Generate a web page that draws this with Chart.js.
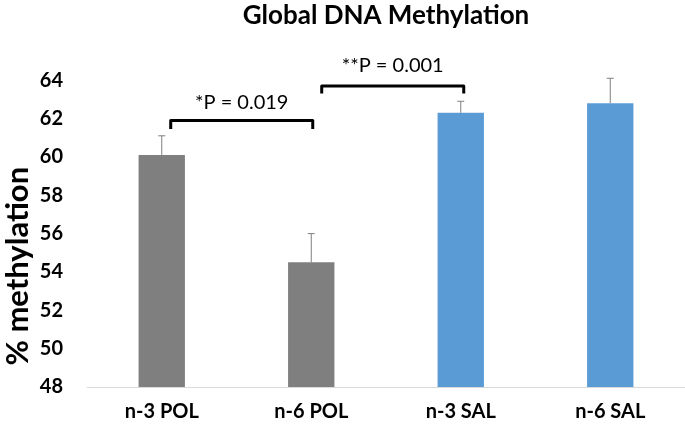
<!DOCTYPE html>
<html>
<head>
<meta charset="utf-8">
<script src="https://cdn.jsdelivr.net/npm/chart.js@4.4.1/dist/chart.umd.min.js"></script>
<style>
  html, body { margin: 0; padding: 0; background: #fff; }
  #wrap { width: 685px; height: 432px; position: relative; }
</style>
</head>
<body>
<div id="wrap"><canvas id="chart"></canvas></div>
<script>
  // values
  const groups = ['n-3 POL', 'n-6 POL', 'n-3 SAL', 'n-6 SAL'];
  const methylation = [60.1, 54.5, 62.3, 62.8];
  const errorUpper = [1.0, 1.5, 0.6, 1.3];
  const barColors = ['#7f7f7f', '#7f7f7f', '#5b9bd5', '#5b9bd5'];
  const yTicks = [48, 50, 52, 54, 56, 58, 60, 62, 64];
  const yTitle = '% methylation';

  // significance brackets: [from index, to index, bar level, tick end, label, label level]
  const brackets = [
    { from: 0.06, to: 1.01, level: 61.9, end: 61.45, text: '*P = 0.019', textAt: 62.85 },
    { from: 1.07, to: 2.02, level: 63.7, end: 63.3, text: '**P = 0.001', textAt: 64.75 }
  ];

  const font = 'Lato, "Open Sans", sans-serif';

  const extras = {
    id: 'extras',
    afterDatasetsDraw(chart) {
      const ctx = chart.ctx;
      const x = chart.scales.x;
      const y = chart.scales.y;
      ctx.save();
      // error bars (upper only)
      ctx.strokeStyle = '#7f7f7f';
      ctx.lineWidth = 1;
      methylation.forEach(function (v, i) {
        const px = x.getPixelForValue(i);
        const top = y.getPixelForValue(v + errorUpper[i]);
        const bot = y.getPixelForValue(v);
        ctx.beginPath();
        ctx.moveTo(px, bot);
        ctx.lineTo(px, top);
        ctx.moveTo(px - 3.5, top);
        ctx.lineTo(px + 3.5, top);
        ctx.stroke();
      });
      // brackets
      ctx.strokeStyle = '#000';
      ctx.lineWidth = 3;
      ctx.lineJoin = 'round';
      ctx.fillStyle = '#000';
      ctx.font = '20px ' + font;
      ctx.textAlign = 'center';
      ctx.textBaseline = 'middle';
      brackets.forEach(function (b) {
        const x1 = x.getPixelForValue(b.from);
        const x2 = x.getPixelForValue(b.to);
        const yl = y.getPixelForValue(b.level);
        const ye = y.getPixelForValue(b.end);
        ctx.beginPath();
        ctx.moveTo(x1, ye);
        ctx.lineTo(x1, yl);
        ctx.lineTo(x2, yl);
        ctx.lineTo(x2, ye);
        ctx.stroke();
        ctx.fillText(b.text, (x1 + x2) / 2, y.getPixelForValue(b.textAt));
      });
      // y axis title, sitting a little low as in the original
      ctx.font = 'bold 31px ' + font;
      ctx.translate(18, y.getPixelForValue(54.3));
      ctx.rotate(-Math.PI / 2);
      ctx.fillText(yTitle, 0, 0);
      ctx.restore();
    }
  };

  new Chart(document.getElementById('chart'), {
    type: 'bar',
    data: {
      labels: groups,
      datasets: [{
        data: methylation,
        backgroundColor: barColors,
        barPercentage: 0.62,
        categoryPercentage: 0.5
      }]
    },
    options: {
      responsive: true,
      maintainAspectRatio: false,
      animation: false,
      devicePixelRatio: 1,
      layout: { padding: 0 },
      plugins: {
        legend: { display: false },
        tooltip: { enabled: false },
        title: {
          display: true,
          fullSize: false,
          text: 'Global DNA Methylation',
          color: '#000',
          font: { family: font, size: 26, weight: 'bold' },
          padding: { top: 0, bottom: 49 }
        }
      },
      scales: {
        x: {
          afterFit: function (scale) { scale.height = 45; },
          grid: { display: false, drawTicks: false },
          border: { display: true, color: '#d9d9d9', width: 1 },
          ticks: {
            color: '#000',
            padding: 13,
            font: { family: font, size: 20, weight: 'bold' }
          }
        },
        y: {
          min: 48,
          max: 64,
          afterFit: function (scale) { scale.width = 87; },
          afterBuildTicks: function (scale) {
            scale.ticks = yTicks.map(function (v) { return { value: v }; });
          },
          grid: { display: false, drawTicks: false },
          border: { display: false },
          ticks: {
            color: '#000',
            padding: 24,
            font: { family: font, size: 20, weight: 'bold' }
          }
        }
      }
    },
    plugins: [extras]
  });
</script>
</body>
</html>
